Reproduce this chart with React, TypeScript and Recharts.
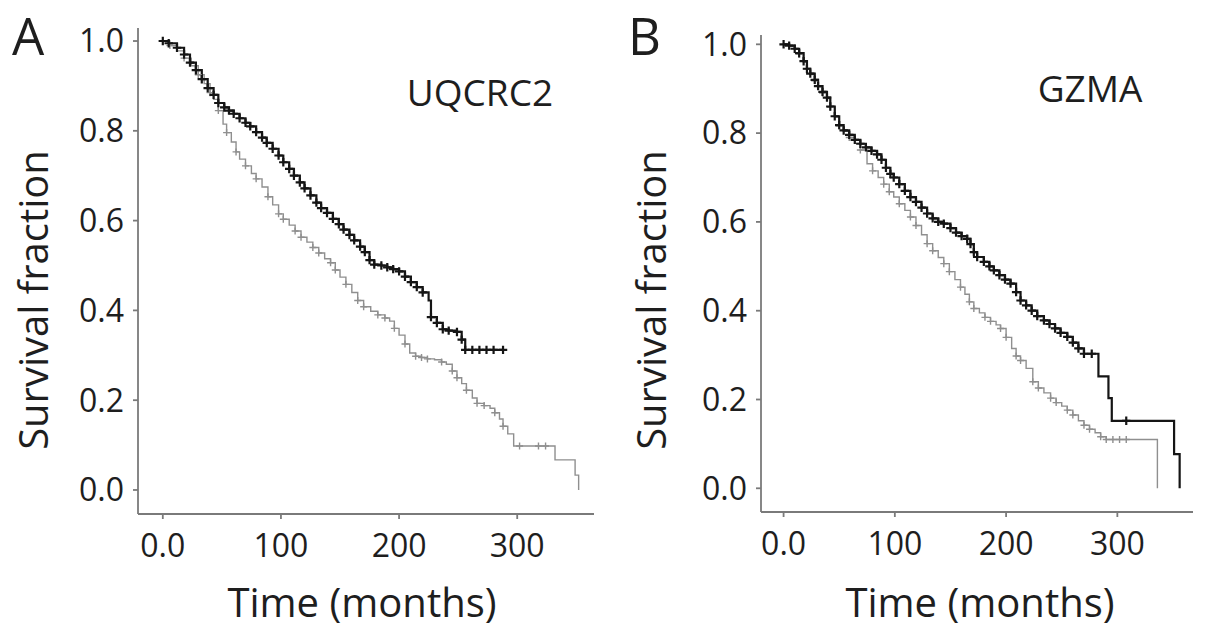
import { LineChart, Line, XAxis, YAxis } from 'recharts'

// Panel A - UQCRC2. Black = high group, grey = low group
const uqHighTime = [0, 5, 12, 18, 23, 28, 33, 38, 43, 47, 52, 56, 60, 65, 70, 74, 79, 84, 88, 93, 98, 102, 107, 111, 116, 120, 125, 130, 134, 139, 144, 149, 153, 158, 162, 167, 171, 175, 179, 185, 190, 195, 200, 205, 210, 215, 220, 225, 227, 232, 237, 242, 249, 253, 256, 262, 268, 274, 280, 288]
const uqHighSurv = [1.0, 0.995, 0.985, 0.97, 0.952, 0.935, 0.915, 0.895, 0.88, 0.862, 0.852, 0.845, 0.838, 0.828, 0.818, 0.81, 0.797, 0.785, 0.773, 0.76, 0.745, 0.73, 0.715, 0.7, 0.685, 0.672, 0.656, 0.64, 0.628, 0.617, 0.604, 0.592, 0.58, 0.568, 0.556, 0.542, 0.53, 0.512, 0.502, 0.5, 0.496, 0.492, 0.487, 0.475, 0.463, 0.452, 0.44, 0.422, 0.385, 0.372, 0.358, 0.355, 0.352, 0.335, 0.312, 0.312, 0.312, 0.312, 0.312, 0.312]
const uqHighCens = [1, 1, 1, 1, 1, 1, 1, 1, 1, 1, 1, 1, 1, 1, 1, 1, 1, 1, 1, 1, 1, 1, 1, 1, 1, 1, 1, 1, 1, 1, 1, 1, 1, 1, 1, 1, 1, 1, 1, 1, 1, 1, 1, 1, 1, 1, 1, 0, 1, 1, 1, 1, 1, 1, 1, 1, 1, 1, 1, 1]

const uqLowTime = [0, 6, 12, 18, 24, 30, 35, 40, 43, 47, 51, 54, 58, 62, 65, 70, 75, 79, 84, 89, 93, 98, 102, 107, 112, 117, 122, 127, 132, 137, 142, 146, 150, 155, 160, 165, 170, 176, 182, 188, 192, 196, 200, 205, 209, 214, 219, 224, 230, 236, 240, 245, 249, 253, 257, 262, 266, 272, 277, 281, 285, 288, 292, 297, 302, 318, 324, 332, 349, 352]
const uqLowSurv = [1.0, 0.99, 0.978, 0.962, 0.945, 0.925, 0.905, 0.885, 0.87, 0.845, 0.815, 0.796, 0.775, 0.753, 0.737, 0.722, 0.705, 0.693, 0.675, 0.653, 0.635, 0.615, 0.603, 0.59, 0.577, 0.563, 0.552, 0.54, 0.528, 0.515, 0.506, 0.49, 0.474, 0.458, 0.44, 0.422, 0.408, 0.398, 0.39, 0.383, 0.376, 0.36, 0.345, 0.325, 0.305, 0.298, 0.295, 0.292, 0.29, 0.285, 0.28, 0.265, 0.25, 0.237, 0.222, 0.205, 0.193, 0.188, 0.182, 0.172, 0.158, 0.142, 0.125, 0.098, 0.098, 0.098, 0.098, 0.067, 0.033, 0]
const uqLowCens = [0, 1, 0, 1, 0, 1, 0, 1, 0, 1, 0, 1, 0, 1, 0, 1, 0, 1, 0, 1, 0, 1, 1, 0, 1, 1, 0, 1, 1, 0, 1, 1, 0, 1, 0, 1, 1, 0, 1, 1, 0, 1, 0, 1, 0, 1, 1, 1, 0, 1, 0, 1, 1, 0, 1, 0, 1, 1, 0, 1, 0, 1, 0, 0, 1, 1, 1, 0, 0, 0]

// Panel B - GZMA
const gzHighTime = [0, 5, 10, 14, 18, 21, 24, 28, 31, 35, 39, 42, 46, 50, 54, 59, 64, 69, 74, 79, 84, 88, 92, 96, 99, 104, 109, 114, 119, 124, 129, 134, 139, 144, 150, 155, 160, 165, 168, 171, 174, 180, 185, 189, 194, 199, 204, 209, 213, 218, 223, 228, 234, 239, 244, 249, 255, 260, 265, 270, 277, 283, 292, 295, 308, 351, 356]
const gzHighSurv = [1.0, 0.997, 0.99, 0.98, 0.962, 0.945, 0.934, 0.92, 0.906, 0.893, 0.88, 0.86, 0.838, 0.818, 0.806, 0.796, 0.785, 0.776, 0.768, 0.76, 0.752, 0.74, 0.722, 0.708, 0.7, 0.685, 0.67, 0.656, 0.645, 0.632, 0.619, 0.608, 0.6, 0.596, 0.586, 0.576, 0.568, 0.562, 0.55, 0.532, 0.521, 0.51, 0.5, 0.491, 0.48, 0.47, 0.461, 0.442, 0.423, 0.412, 0.4, 0.388, 0.378, 0.37, 0.36, 0.35, 0.341, 0.328, 0.315, 0.303, 0.303, 0.252, 0.203, 0.152, 0.152, 0.077, 0]
const gzHighCens = [1, 1, 1, 1, 1, 1, 1, 1, 1, 1, 1, 1, 1, 1, 1, 1, 1, 1, 1, 1, 1, 1, 1, 1, 1, 1, 1, 1, 1, 1, 1, 1, 1, 1, 1, 1, 1, 1, 1, 1, 1, 1, 1, 1, 1, 1, 1, 1, 1, 1, 1, 1, 1, 1, 1, 1, 1, 1, 1, 1, 1, 0, 0, 0, 1, 0, 0]

const gzLowTime = [0, 5, 10, 14, 18, 21, 24, 28, 31, 35, 39, 42, 46, 50, 54, 59, 64, 69, 75, 80, 85, 90, 95, 99, 104, 109, 114, 119, 124, 129, 134, 139, 144, 149, 154, 159, 163, 167, 171, 176, 181, 186, 191, 195, 200, 205, 209, 213, 218, 224, 229, 234, 240, 245, 250, 255, 260, 265, 270, 275, 280, 285, 290, 296, 302, 308, 336]
const gzLowSurv = [1.0, 0.997, 0.99, 0.978, 0.96, 0.945, 0.932, 0.918, 0.905, 0.89, 0.878, 0.858, 0.836, 0.816, 0.804, 0.79, 0.777, 0.762, 0.731, 0.715, 0.7, 0.685, 0.668, 0.656, 0.641, 0.626, 0.611, 0.592, 0.571, 0.551, 0.535, 0.52, 0.506, 0.488, 0.47, 0.453, 0.437, 0.42, 0.405, 0.395, 0.385, 0.376, 0.368, 0.36, 0.34, 0.315, 0.298, 0.288, 0.27, 0.24, 0.226, 0.215, 0.203, 0.193, 0.185, 0.176, 0.165, 0.152, 0.142, 0.133, 0.125, 0.116, 0.11, 0.11, 0.11, 0.11, 0]
const gzLowCens = [0, 0, 0, 1, 0, 1, 0, 1, 0, 1, 0, 1, 0, 1, 0, 1, 0, 1, 0, 1, 0, 1, 1, 0, 1, 0, 1, 1, 0, 1, 1, 0, 1, 1, 0, 1, 0, 1, 1, 0, 1, 1, 0, 1, 1, 0, 1, 1, 0, 1, 1, 0, 1, 1, 0, 1, 1, 0, 1, 1, 0, 1, 1, 1, 1, 1, 0]

const yTicks = [0, 0.2, 0.4, 0.6, 0.8, 1.0]
const xTicks = [0, 100, 200, 300]

const FONT = '"Open Sans", sans-serif'
const AXIS_GREY = '#7a7a7a'
const HIGH_COLOR = '#151515'
const LOW_COLOR = '#8f8f8f'

const toRows = (time: number[], surv: number[], cens: number[]) =>
  time.map((t, i) => ({ t, s: surv[i], c: cens[i] }))

// little "+" for censored patients
const censorMark = (color: string, half: number, width: number) => (props: any) => {
  const { cx, cy, payload, index } = props
  if (!payload || !payload.c || cx == null || cy == null) return <g key={`n-${index}`} />
  return (
    <path
      key={`c-${index}`}
      d={`M${cx - half},${cy}H${cx + half}M${cx},${cy - half}V${cy + half}`}
      stroke={color}
      strokeWidth={width}
      fill="none"
    />
  )
}

interface PanelProps {
  left: number
  width: number
  margin: { top: number; right: number; bottom: number; left: number }
  xDomain: [number, number]
  yDomain: [number, number]
  high: Array<{ t: number; s: number; c: number }>
  low: Array<{ t: number; s: number; c: number }>
}

function SurvivalPanel({ left, width, margin, xDomain, yDomain, high, low }: PanelProps) {
  const tickStyle = { fill: '#1e1e1e', fontSize: 32, fontFamily: FONT }
  return (
    <div style={{ position: 'absolute', left, top: 0 }}>
      <LineChart width={width} height={640} margin={margin}>
        <XAxis
          type="number"
          dataKey="t"
          domain={xDomain}
          allowDataOverflow
          ticks={xTicks}
          tickFormatter={(v: number) => (v === 0 ? '0.0' : String(v))}
          height={60}
          stroke={AXIS_GREY}
          strokeWidth={1.8}
          tickSize={5}
          tickMargin={15}
          tick={tickStyle}
          interval={0}
        />
        <YAxis
          type="number"
          domain={yDomain}
          allowDataOverflow
          ticks={yTicks}
          tickFormatter={(v: number) => v.toFixed(1)}
          width={60}
          stroke={AXIS_GREY}
          strokeWidth={1.8}
          tickSize={5}
          tickMargin={9}
          tick={tickStyle}
          interval={0}
        />
        <Line
          data={low}
          dataKey="s"
          type="stepAfter"
          stroke={LOW_COLOR}
          strokeWidth={1.4}
          dot={censorMark(LOW_COLOR, 3.5, 1.4)}
          activeDot={false}
          isAnimationActive={false}
        />
        <Line
          data={high}
          dataKey="s"
          type="stepAfter"
          stroke={HIGH_COLOR}
          strokeWidth={2.2}
          dot={censorMark(HIGH_COLOR, 4.2, 2.2)}
          activeDot={false}
          isAnimationActive={false}
        />
      </LineChart>
    </div>
  )
}

export default function App() {
  const textStyle = { fontFamily: FONT, fill: '#1e1e1e' }
  return (
    <div style={{ position: 'relative', width: 1205, height: 640, background: '#fff' }}>
      <style>{'body { margin: 0; }'}</style>
      <SurvivalPanel
        left={0}
        width={600}
        margin={{ top: 28, right: 6, bottom: 66, left: 78 }}
        xDomain={[-21, 365]}
        yDomain={[-0.0535, 1.029]}
        high={toRows(uqHighTime, uqHighSurv, uqHighCens)}
        low={toRows(uqLowTime, uqLowSurv, uqLowCens)}
      />
      <SurvivalPanel
        left={600}
        width={605}
        margin={{ top: 35, right: 12, bottom: 68, left: 101 }}
        xDomain={[-20.3, 368]}
        yDomain={[-0.0534, 1.021]}
        high={toRows(gzHighTime, gzHighSurv, gzHighCens)}
        low={toRows(gzLowTime, gzLowSurv, gzLowCens)}
      />
      <svg width={1205} height={640} style={{ position: 'absolute', left: 0, top: 0, pointerEvents: 'none' }}>
        <text x={12} y={55} fontSize={51} style={textStyle}>A</text>
        <text x={628} y={55} fontSize={51} style={textStyle}>B</text>
        <text x={480} y={106} fontSize={37} textAnchor="middle" style={textStyle}>UQCRC2</text>
        <text x={1090} y={102} fontSize={37} textAnchor="middle" style={textStyle}>GZMA</text>
        <text transform="translate(48,300) rotate(-90)" fontSize={40} textAnchor="middle" style={textStyle}>
          Survival fraction
        </text>
        <text transform="translate(666,300) rotate(-90)" fontSize={40} textAnchor="middle" style={textStyle}>
          Survival fraction
        </text>
        <text x={362} y={617} fontSize={40} textAnchor="middle" style={textStyle}>Time (months)</text>
        <text x={980} y={617} fontSize={40} textAnchor="middle" style={textStyle}>Time (months)</text>
      </svg>
    </div>
  )
}
